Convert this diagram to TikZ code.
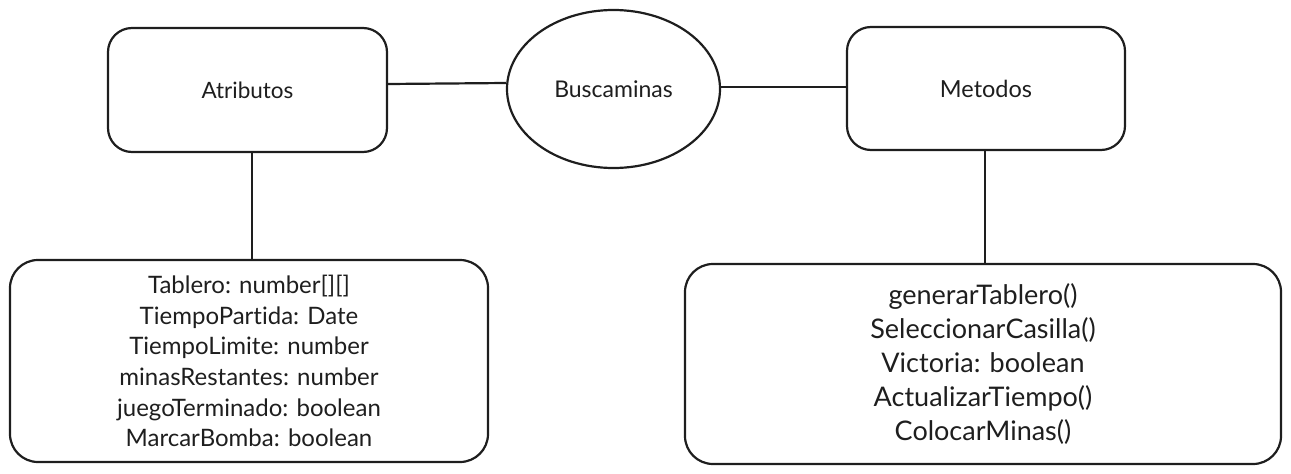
\documentclass[tikz,border=0pt]{standalone}
\usepackage{fontspec}
\setmainfont{Lato}[Ligatures={NoCommon,NoDiscretionary,NoRare},Contextuals=NoAlternate]
\usetikzlibrary{shapes.geometric}
\definecolor{ink}{HTML}{1E1E1E}
\begin{document}
\begin{tikzpicture}[x=1pt,y=-1pt,
  every node/.style={text=ink, inner sep=0pt},
  topbox/.style={draw=ink, line width=2.2pt, rounded corners=24pt, minimum width=279pt, minimum height=124pt, font=\fontsize{22.5}{27}\selectfont},
  listbox/.style={draw=ink, line width=2.2pt, rounded corners=28pt, align=center},
  conn/.style={draw=ink, line width=2.2pt}]
\useasboundingbox (0,0) rectangle (1291,474);
\node[topbox] (attr) at (247.5,90) {Atributos};
\node[draw=ink, line width=2.2pt, ellipse, minimum width=213pt, minimum height=158pt, font=\fontsize{23}{27}\selectfont] (busc) at (613.5,89) {Buscaminas};
\node[topbox, minimum width=278pt, minimum height=123pt, font=\fontsize{23.5}{27}\selectfont] (met) at (986,88.5) {Metodos};
\node[listbox, minimum width=478pt, minimum height=202pt, font=\fontsize{24}{30.6}\selectfont] (alist) at (249,361)
  {Tablero: number[][]\\TiempoPartida: Date\\TiempoLimite: number\\minasRestantes: number\\juegoTerminado: boolean\\MarcarBomba: boolean};
\node[listbox, minimum width=596pt, minimum height=200pt, font=\fontsize{27}{34}\selectfont] (mlist) at (983,364)
  {generarTablero()\\SeleccionarCasilla()\\Victoria: boolean\\ActualizarTiempo()\\ColocarMinas()};
\draw[conn] ([yshift=6pt]attr.east) -- ([yshift=6pt]busc.west);
\draw[conn] ([yshift=2pt]busc.east) -- ([yshift=2pt]busc.east -| met.west);
\draw[conn] ([xshift=4.5pt]attr.south) -- ([xshift=4.5pt]attr.south |- alist.north);
\draw[conn] ([xshift=-1pt]met.south) -- ([xshift=-1pt]met.south |- mlist.north);
\end{tikzpicture}
\end{document}
